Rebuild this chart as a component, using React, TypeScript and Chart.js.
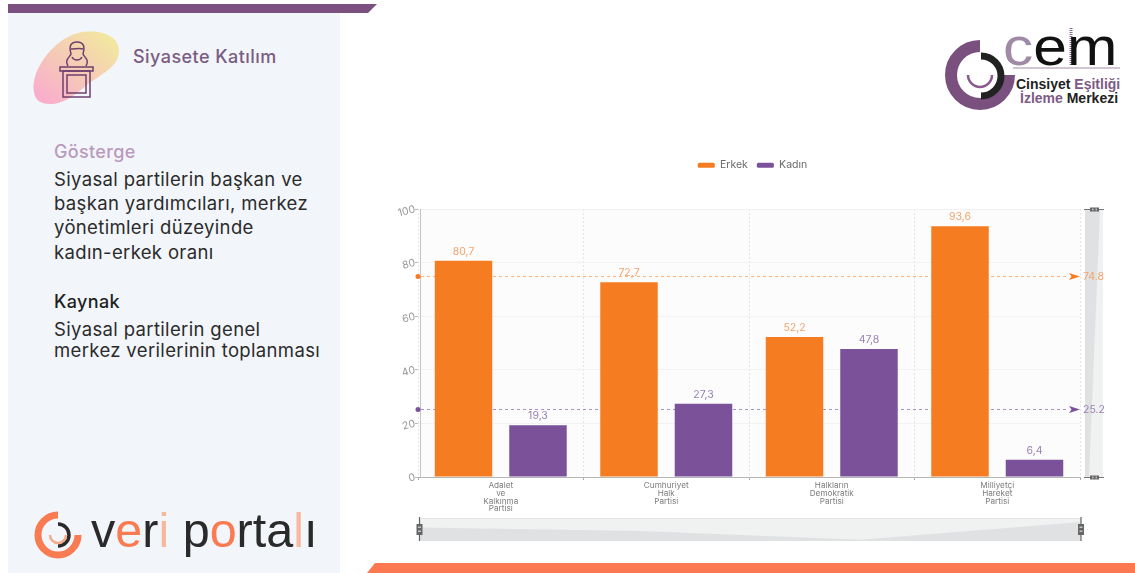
import React, { useEffect, useRef } from "react";
import { Chart, registerables } from "chart.js";

Chart.register(...registerables);

const categories = [
  ["Adalet", "ve", "Kalkınma", "Partisi"],
  ["Cumhuriyet", "Halk", "Partisi"],
  ["Halkların", "Demokratik", "Partisi"],
  ["Milliyetçi", "Hareket", "Partisi"],
];
const erkekValues = [80.7, 72.7, 52.2, 93.6];
const kadinValues = [19.3, 27.3, 47.8, 6.4];
const erkekMean = 74.8;
const kadinMean = 25.2;
const seriesNames = ["Erkek", "Kadın"];
const ORANGE = "#f57c20";
const PURPLE = "#7b5299";
const ORANGE_TEXT = "#f2a46c";
const PURPLE_TEXT = "#9a80b4";
const FONT = "Inter, 'Open Sans', sans-serif";

const fmt = (v: number) => v.toFixed(1).replace(".", ",");

function handleH(ctx: CanvasRenderingContext2D, y: number) {
  ctx.strokeStyle = "#777";
  ctx.lineWidth = 1;
  ctx.beginPath();
  ctx.moveTo(1084, y + 0.5);
  ctx.lineTo(1104, y + 0.5);
  ctx.stroke();
  ctx.fillStyle = "#666";
  ctx.fillRect(1090, y - 1.5, 9, 4);
  ctx.fillStyle = "#bbb";
  ctx.fillRect(1092, y - 0.5, 1.5, 2);
  ctx.fillRect(1095.5, y - 0.5, 1.5, 2);
}

function handleV(ctx: CanvasRenderingContext2D, x: number) {
  ctx.strokeStyle = "#666";
  ctx.lineWidth = 1.2;
  ctx.beginPath();
  ctx.moveTo(x, 517);
  ctx.lineTo(x, 541);
  ctx.stroke();
  ctx.fillStyle = "#666";
  ctx.fillRect(x - 3, 524, 6, 11);
  ctx.fillStyle = "#c4c4c4";
  ctx.fillRect(x - 1.5, 526.5, 3, 1.5);
  ctx.fillRect(x - 1.5, 530.5, 3, 1.5);
}

const decorPlugin = {
  id: "decor",
  beforeLayout(chart: any) {
    const legend = chart.legend;
    if (legend && !legend.__fitWrapped) {
      const fit = legend.fit;
      legend.fit = function () {
        fit.call(this);
        this.height = 58;
      };
      legend.__fitWrapped = true;
    }
  },
  afterLayout(chart: any) {
    const legend = chart.legend;
    if (legend) {
      legend.left += 3.5;
      legend.right += 3.5;
    }
  },
  beforeDraw(chart: any) {
    const { ctx, chartArea: a } = chart;
    ctx.save();
    ctx.fillStyle = "#fcfcfc";
    ctx.fillRect(a.left + 3, a.top, a.right - a.left - 3, a.bottom - a.top);

    const l = 419.5,
      r = 1081,
      t = 518,
      b = 541;
    ctx.fillStyle = "#f0f1f1";
    ctx.fillRect(l, t, r - l, b - t);
    ctx.strokeStyle = "#e4e5e6";
    ctx.strokeRect(l + 0.5, t + 0.5, r - l - 1, b - t - 1);
    ctx.fillStyle = "#dfe1e3";
    ctx.beginPath();
    ctx.moveTo(l, b);
    erkekValues.forEach((v, i) => {
      const x = l + ((r - l) * i) / (erkekValues.length - 1);
      ctx.lineTo(x, 539.7 - (v - 52.2) * 0.43);
    });
    ctx.lineTo(r, b);
    ctx.closePath();
    ctx.fill();
    handleV(ctx, l);
    handleV(ctx, r);

    ctx.fillStyle = "#f0f1f1";
    ctx.fillRect(1085, a.top, 18, a.bottom - a.top);
    ctx.fillStyle = "#dfe1e3";
    ctx.beginPath();
    ctx.moveTo(1085, a.top);
    ctx.lineTo(1100, a.top);
    ctx.lineTo(1089, a.bottom);
    ctx.lineTo(1085, a.bottom);
    ctx.closePath();
    ctx.fill();
    handleH(ctx, a.top);
    handleH(ctx, a.bottom);
    ctx.restore();
  },
  beforeDatasetsDraw(chart: any) {
    const { ctx, chartArea: a, scales } = chart;
    ctx.save();
    ctx.strokeStyle = "#c4c4c4";
    ctx.lineWidth = 1;
    ctx.beginPath();
    ctx.moveTo(a.left + 2.5, a.top);
    ctx.lineTo(a.left + 2.5, a.bottom);
    ctx.stroke();

    [
      { v: erkekMean, line: "#f9b27f", solid: ORANGE, text: ORANGE_TEXT },
      { v: kadinMean, line: "#a590c8", solid: PURPLE, text: PURPLE_TEXT },
    ].forEach((m) => {
      const y = scales.y.getPixelForValue(m.v);
      ctx.fillStyle = m.solid;
      ctx.beginPath();
      ctx.arc(a.left, y, 2.5, 0, Math.PI * 2);
      ctx.fill();
      ctx.strokeStyle = m.line;
      ctx.lineWidth = 1;
      ctx.setLineDash([3, 3]);
      ctx.beginPath();
      ctx.moveTo(a.left + 3, y);
      ctx.lineTo(1069, y);
      ctx.stroke();
      ctx.setLineDash([]);
      ctx.fillStyle = m.solid;
      ctx.beginPath();
      ctx.moveTo(1069, y - 3.5);
      ctx.lineTo(1080, y);
      ctx.lineTo(1069, y + 3.5);
      ctx.lineTo(1071.5, y);
      ctx.closePath();
      ctx.fill();
      ctx.fillStyle = m.text;
      ctx.font = `10.5px ${FONT}`;
      ctx.textAlign = "left";
      ctx.textBaseline = "middle";
      ctx.fillText(m.v.toFixed(1), 1083, y + 0.5);
    });
    ctx.restore();
  },
  afterDatasetsDraw(chart: any) {
    const { ctx } = chart;
    ctx.save();
    ctx.font = `10.5px ${FONT}`;
    ctx.textAlign = "center";
    ctx.textBaseline = "bottom";
    chart.data.datasets.forEach((ds: any, di: number) => {
      ctx.fillStyle = di === 0 ? ORANGE_TEXT : PURPLE_TEXT;
      chart.getDatasetMeta(di).data.forEach((bar: any, i: number) => {
        ctx.fillText(fmt(ds.data[i]), bar.x, bar.y - 4);
      });
    });
    ctx.restore();
  },
};

function text(left: number, top: number, size: number, lh: number, color: string, weight: number, spacing = 0.35): React.CSSProperties {
  return {
    position: "absolute",
    left,
    top,
    fontFamily: FONT,
    fontSize: size,
    lineHeight: `${lh}px`,
    color,
    fontWeight: weight,
    letterSpacing: spacing,
    whiteSpace: "nowrap",
  };
}

const SANS = "'Liberation Sans', sans-serif";

function Logos() {
  return (
    <>
      <svg width={1135} height={573} style={{ position: "absolute", left: 0, top: 0 }}>
        <defs>
          <linearGradient id="blob" x1="0" y1="1" x2="1" y2="0">
            <stop offset="0.1" stopColor="#f9afcb" />
            <stop offset="0.9" stopColor="#f2e7a0" />
          </linearGradient>
        </defs>
        <rect x={8} y={13} width={332} height={560} fill="#f2f5f9" />
        <polygon points="8,4 377,4 368,13 8,13" fill="#7b4f7f" />
        <polygon points="375,563 1135,563 1135,573 367,573" fill="#fb7850" />
        <path
          d="M34,92 C30,72 52,40 78,33 C100,28 120,36 119,52 C118,68 98,76 88,84 C74,96 64,104 50,104 C40,104 35,100 34,92 Z"
          fill="url(#blob)"
        />
        <g fill="none" stroke="#6f3f6f" strokeWidth={1.5}>
          <path d="M68,66 C64,60 70,57 71,54 C69,47 70,42 77,42 C84,42 85,47 83,54 C84,57 90,60 86,66" />
          <path d="M71,49 C75,49 80,48 83,49" />
          <path d="M72,57 C74,61 80,61 82,57" />
          <rect x={60} y={67} width={33} height={4} />
          <rect x={63} y={71} width={27} height={26} />
          <rect x={67} y={75} width={19} height={18} />
        </g>
        <path d="M58,515 A20,20 0 1 0 78,535" fill="none" stroke="#f97b52" strokeWidth={7} />
        <path d="M58,524 A11,11 0 0 1 58,546" fill="none" stroke="#2a2a2a" strokeWidth={3.5} />
        <path d="M50,535 A8,8 0 0 0 66,535" fill="none" stroke="#f7a98c" strokeWidth={2.5} />

        <path d="M980,46 A29,29 0 1 0 1009,75" fill="none" stroke="#79507e" strokeWidth={12} />
        <path d="M981,56 A20,20 0 0 1 981,96" fill="none" stroke="#222" strokeWidth={7} />
        <path d="M968,75 A12,12 0 0 0 992,75" fill="none" stroke="#8a5a90" strokeWidth={2.5} />
        <path d="M1013,68 L1120,68" stroke="#a08aa6" strokeWidth={1} />
        <path d="M1071,28 L1071,65" stroke="#8a6a90" strokeWidth={3} strokeDasharray="1 1" />
      </svg>

      <div style={text(133, 46, 18, 22, "#7a5c82", 500, 0.45)}>Siyasete Katılım</div>
      <div style={text(54, 140, 18, 24, "#b99abd", 500)}>Gösterge</div>
      <div style={text(54, 166.5, 18.5, 24.4, "#2b2b2b", 400)}>
        Siyasal partilerin başkan ve
        <br />
        başkan yardımcıları, merkez
        <br />
        yönetimleri düzeyinde
        <br />
        kadın-erkek oranı
      </div>
      <div style={text(54, 290, 18, 24, "#1f1f1f", 500)}>Kaynak</div>
      <div style={text(54, 319, 18.5, 20.6, "#2b2b2b", 400)}>
        Siyasal partilerin genel
        <br />
        merkez verilerinin toplanması
      </div>

      <div style={{ position: "absolute", left: 91, top: 503, fontFamily: SANS, fontSize: 48.5, lineHeight: "54px", color: "#2a2a2a", whiteSpace: "pre" }}>
        v<span style={{ color: "#f97b52" }}>e</span>r<span style={{ color: "#f7b8a0" }}>i</span> p<span style={{ color: "#f97b52" }}>o</span>rta<span style={{ color: "#f7b8a0" }}>l</span>ı
      </div>

      <div style={{ position: "absolute", left: 1003, top: 19, fontFamily: SANS, fontSize: 54, lineHeight: "54px", color: "#111", whiteSpace: "pre", transform: "scaleX(1.12)", transformOrigin: "left top" }}>
        <span style={{ color: "#a08aa6" }}>c</span>em
      </div>
      <div style={{ position: "absolute", left: 1016, top: 76.5, fontFamily: SANS, fontWeight: 700, fontSize: 14, lineHeight: "15px", color: "#222", whiteSpace: "pre" }}>
        Cinsiyet <span style={{ color: "#7d5a86" }}>Eşitliği</span>
      </div>
      <div style={{ position: "absolute", left: 1020, top: 90.5, fontFamily: SANS, fontWeight: 700, fontSize: 14, lineHeight: "15px", color: "#222", whiteSpace: "pre" }}>
        <span style={{ color: "#7d5a86" }}>İzleme</span> Merkezi
      </div>
    </>
  );
}

export default function App() {
  const ref = useRef<HTMLCanvasElement | null>(null);
  useEffect(() => {
    const chart = new Chart(ref.current as HTMLCanvasElement, {
      type: "bar",
      data: {
        labels: categories as any,
        datasets: [
          { label: seriesNames[0], data: erkekValues, backgroundColor: ORANGE },
          { label: seriesNames[1], data: kadinValues, backgroundColor: PURPLE },
        ],
      },
      plugins: [decorPlugin as any],
      options: {
        responsive: false,
        animation: false,
        devicePixelRatio: 1,
        categoryPercentage: 0.9,
        barPercentage: 0.772,
        layout: { padding: { left: 378, right: 55, top: 151, bottom: 0 } },
        plugins: {
          tooltip: { enabled: false },
          legend: {
            position: "top",
            fullSize: false,
            labels: {
              boxWidth: 17,
              boxHeight: 5,
              useBorderRadius: true,
              borderRadius: 1.5,
              padding: 9,
              color: "#6a6a6a",
              font: { family: FONT, size: 10.5 },
            },
          },
        },
        scales: {
          x: {
            afterFit: (s: any) => {
              s.height = 96;
            },
            border: { color: "#b5b5b5", dash: [2, 2] },
            grid: {
              color: "#e6e6e6",
              tickColor: "#aaa",
              tickLength: 3,
            },
            ticks: {
              autoSkip: false,
              maxRotation: 0,
              color: "#7d7d7d",
              padding: 2,
              font: { family: FONT, size: 8.2, lineHeight: 0.93 },
            },
          } as any,
          y: {
            min: 0,
            max: 100,
            afterFit: (s: any) => {
              s.width = 40;
            },
            border: { display: false },
            grid: { color: "#f2f2f2", tickLength: 3, tickColor: "#bbb" },
            ticks: {
              stepSize: 20,
              color: "#9a9a9a",
              padding: 0,
              minRotation: 15,
              maxRotation: 15,
              font: { family: FONT, size: 10.5 },
            },
          } as any,
        },
      } as any,
    });
    return () => chart.destroy();
  }, []);
  return (
    <div style={{ position: "absolute", left: 0, top: 0, width: 1135, height: 573, overflow: "hidden", background: "#fff" }}>
      <Logos />
      <canvas ref={ref} width={1135} height={573} style={{ position: "absolute", left: 0, top: 0, display: "block" }} />
    </div>
  );
}
